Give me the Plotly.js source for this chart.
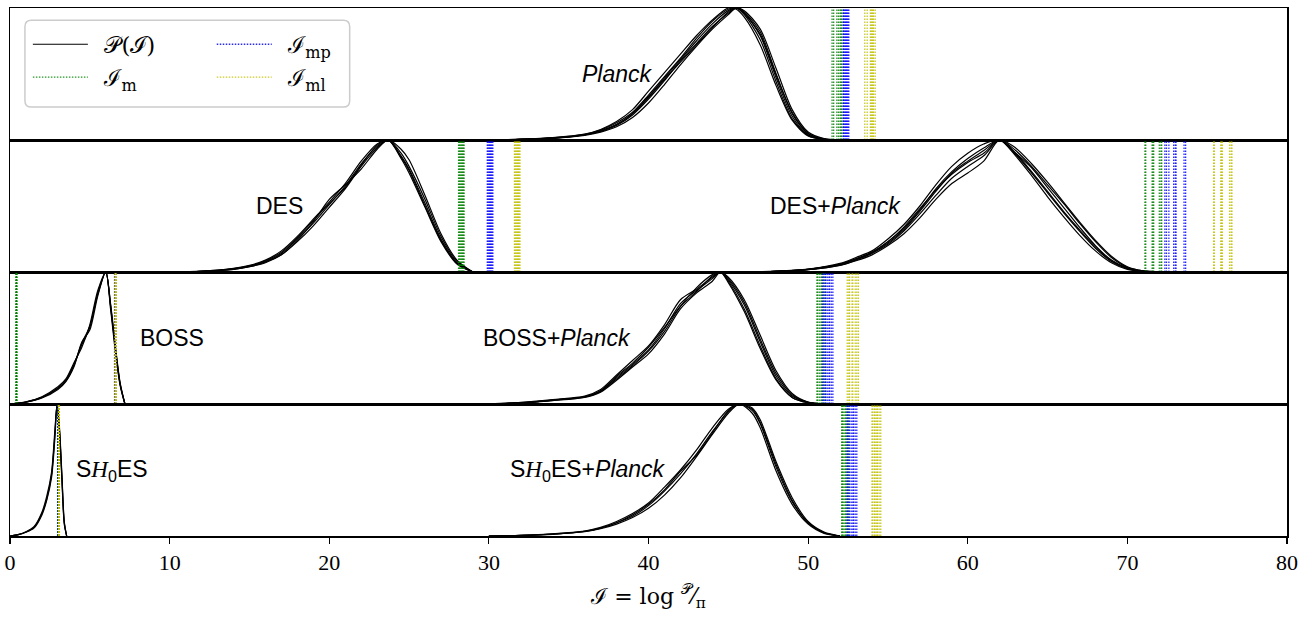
<!DOCTYPE html>
<html>
<head>
<meta charset="utf-8">
<script src="https://cdn.plot.ly/plotly-3.0.1.min.js"></script>
<style>html,body{margin:0;padding:0;background:#fff;}#chart{width:1315px;height:617px;}</style>
</head>
<body>
<div id="chart"></div>
<script>
// ---------------- data ----------------
// Panel 1 : Planck
const planckX = [30,32,34,36,37,38,39,40,41,42,43,44,45,45.5,46,47,48,49,50,51,52];
const planckY = [
  [0,0.005,0.015,0.04,0.07,0.12,0.2,0.33,0.47,0.61,0.75,0.88,0.98,1.0,0.96,0.79,0.47,0.18,0.04,0.005,0],
  [0,0.004,0.012,0.035,0.06,0.1,0.17,0.28,0.42,0.57,0.71,0.84,0.95,1.0,0.98,0.84,0.54,0.23,0.06,0.01,0],
  [0,0.006,0.018,0.045,0.08,0.14,0.23,0.37,0.51,0.65,0.79,0.91,1.0,0.99,0.93,0.72,0.41,0.15,0.03,0.004,0],
  [0,0.005,0.014,0.04,0.065,0.11,0.19,0.31,0.45,0.6,0.73,0.86,0.96,1.0,0.97,0.82,0.5,0.2,0.05,0.008,0],
  [0,0.005,0.016,0.042,0.075,0.13,0.21,0.34,0.48,0.62,0.77,0.9,0.99,1.0,0.95,0.76,0.44,0.16,0.035,0.004,0],
  [0,0.004,0.013,0.038,0.068,0.115,0.2,0.32,0.46,0.59,0.72,0.85,0.97,1.0,0.96,0.8,0.49,0.21,0.05,0.007,0]
];
const planckM  = [51.5,51.6,51.8,51.9,52.0,52.05,52.1,52.2];
const planckMP = [52.2,52.25,52.3,52.35,52.4,52.45,52.5,52.55];
const planckML = [53.55,53.7,53.9,53.95,54.0,54.05,54.1,54.2];

// Panel 2 : DES and DES+Planck
const desX = [10,12,14,15,16,17,18,19,20,21,22,23,23.7,24.5,25,26,27,28,29];
const desY = [
  [0,0.005,0.025,0.045,0.08,0.14,0.25,0.37,0.51,0.65,0.82,0.95,1.0,0.88,0.78,0.52,0.25,0.07,0],
  [0,0.005,0.02,0.04,0.07,0.13,0.24,0.38,0.55,0.66,0.78,0.93,1.0,0.9,0.8,0.55,0.27,0.08,0],
  [0,0.006,0.028,0.05,0.09,0.16,0.27,0.4,0.53,0.67,0.84,0.97,1.0,0.86,0.75,0.49,0.23,0.06,0],
  [0,0.004,0.02,0.04,0.075,0.13,0.23,0.35,0.49,0.63,0.8,0.94,1.0,0.93,0.85,0.58,0.29,0.09,0],
  [0,0.005,0.024,0.046,0.085,0.15,0.26,0.39,0.52,0.64,0.81,0.96,1.0,0.87,0.77,0.5,0.24,0.065,0]
];
const desM  = [28.1,28.15,28.2,28.25,28.3,28.35,28.4,28.45];
const desMP = [29.9,29.95,30.0,30.05,30.1,30.15,30.2,30.25];
const desML = [31.6,31.65,31.7,31.75,31.8,31.85,31.9,31.95];

const desPlanckX = [46,48,50,52,53,54,55,56,57,58,59,60,61,62,63,64,65,66,67,68,69,70,71,72];
const desPlanckY = [
  [0,0.005,0.02,0.06,0.1,0.15,0.23,0.33,0.47,0.63,0.76,0.86,0.94,1.0,0.89,0.75,0.6,0.45,0.31,0.18,0.08,0.025,0.005,0],
  [0,0.004,0.018,0.05,0.085,0.13,0.2,0.29,0.41,0.55,0.67,0.75,0.84,1.0,0.9,0.79,0.64,0.49,0.34,0.2,0.09,0.03,0.006,0],
  [0,0.006,0.022,0.065,0.11,0.16,0.25,0.36,0.5,0.66,0.8,0.9,0.97,1.0,0.88,0.73,0.57,0.42,0.28,0.16,0.07,0.02,0.004,0],
  [0,0.005,0.02,0.06,0.1,0.15,0.23,0.34,0.48,0.62,0.74,0.83,0.9,1.0,0.92,0.8,0.66,0.52,0.37,0.23,0.11,0.035,0.008,0],
  [0,0.005,0.02,0.058,0.095,0.145,0.22,0.32,0.46,0.61,0.75,0.84,0.92,1.0,0.9,0.76,0.61,0.46,0.32,0.19,0.085,0.028,0.005,0],
  [0,0.004,0.017,0.052,0.09,0.14,0.21,0.31,0.44,0.58,0.71,0.8,0.88,1.0,0.94,0.82,0.68,0.53,0.38,0.24,0.12,0.04,0.008,0]
];
const desPlanckM  = [71.1,71.15,71.55,71.6,71.65,72.0,72.1,72.15];
const desPlanckMP = [72.35,72.45,72.6,72.9,73.0,73.05,73.55,73.65];
const desPlanckML = [75.4,75.45,75.85,75.9,75.95,76.4,76.5,76.55];

// Panel 3 : BOSS and BOSS+Planck
const bossX = [0,1,2,3,3.5,4,4.5,5,5.5,6,6.3,6.6,6.9,7.2];
const bossY = [
  [0,0.015,0.05,0.12,0.18,0.3,0.45,0.58,0.84,1.0,0.74,0.42,0.15,0],
  [0,0.013,0.045,0.11,0.17,0.28,0.47,0.56,0.82,1.0,0.76,0.44,0.16,0],
  [0,0.017,0.055,0.13,0.19,0.31,0.43,0.6,0.86,1.0,0.72,0.4,0.14,0],
  [0,0.014,0.05,0.12,0.175,0.29,0.46,0.59,0.83,1.0,0.75,0.43,0.15,0]
];
const bossM  = [0.38,0.4,0.42,0.4,0.39,0.41,0.4,0.43];
const bossMP = [6.55,6.58,6.6,6.62,6.6,6.57,6.63,6.6];
const bossML = [6.6,6.62,6.64,6.6,6.61,6.63,6.59,6.62];

const bossPlanckX = [30,32,34,36,37,38,39,40,41,42,43,44,44.5,45,46,47,48,49,50,51];
const bossPlanckY = [
  [0,0.01,0.03,0.055,0.1,0.2,0.3,0.41,0.57,0.76,0.86,0.95,1.0,0.94,0.75,0.47,0.21,0.06,0.012,0],
  [0,0.008,0.026,0.05,0.09,0.18,0.28,0.38,0.53,0.72,0.84,0.93,1.0,0.96,0.79,0.52,0.25,0.08,0.015,0],
  [0,0.012,0.034,0.06,0.11,0.22,0.33,0.44,0.6,0.79,0.87,0.96,1.0,0.93,0.72,0.44,0.19,0.05,0.01,0],
  [0,0.01,0.03,0.055,0.1,0.21,0.31,0.43,0.58,0.74,0.85,0.97,1.0,0.92,0.7,0.42,0.18,0.05,0.01,0],
  [0,0.009,0.028,0.052,0.095,0.19,0.29,0.4,0.55,0.74,0.88,0.98,1.0,0.95,0.77,0.49,0.23,0.07,0.012,0]
];
const bossPlanckM  = [50.55,50.6,50.7,50.8,50.85,50.95,51.0,51.1];
const bossPlanckMP = [50.9,51.0,51.1,51.2,51.3,51.35,51.45,51.55];
const bossPlanckML = [52.45,52.55,52.6,52.75,52.8,52.95,53.05,53.15];

// Panel 4 : SH0ES and SH0ES+Planck
const shoesX = [0,0.5,1,1.5,2,2.3,2.6,2.8,2.95,3.1,3.25,3.4,3.55];
const shoesY = [
  [0,0.01,0.03,0.065,0.17,0.28,0.46,0.75,1.0,0.8,0.45,0.1,0],
  [0,0.009,0.028,0.06,0.16,0.27,0.44,0.72,1.0,0.82,0.47,0.11,0],
  [0,0.011,0.032,0.07,0.18,0.3,0.48,0.78,1.0,0.79,0.43,0.09,0]
];
const shoesM  = [2.98,3.0,3.01,3.02,3.0,2.99,3.01,3.03];
const shoesMP = [3.02,3.03,3.04,3.05,3.03,3.04,3.06,3.05];
const shoesML = [3.04,3.05,3.06,3.07,3.05,3.06,3.08,3.07];

const shoesPlanckX = [30,32,34,36,37,38,39,40,41,42,43,44,45,45.7,46.5,47,48,49,50,51,52];
const shoesPlanckY = [
  [0,0.004,0.015,0.035,0.06,0.1,0.15,0.23,0.34,0.47,0.62,0.79,0.94,1.0,0.95,0.85,0.52,0.26,0.1,0.025,0],
  [0,0.003,0.013,0.032,0.055,0.09,0.14,0.21,0.31,0.44,0.6,0.77,0.93,1.0,0.97,0.88,0.56,0.29,0.11,0.03,0],
  [0,0.005,0.017,0.038,0.065,0.11,0.17,0.25,0.37,0.5,0.65,0.82,0.96,1.0,0.93,0.82,0.49,0.24,0.09,0.02,0],
  [0,0.004,0.014,0.036,0.06,0.1,0.16,0.24,0.35,0.49,0.61,0.78,0.95,1.0,0.96,0.86,0.54,0.27,0.1,0.025,0]
];
const shoesPlanckM  = [52.1,52.15,52.2,52.3,52.35,52.4,52.5,52.55];
const shoesPlanckMP = [52.45,52.5,52.6,52.7,52.8,52.85,52.95,53.05];
const shoesPlanckML = [54.0,54.05,54.15,54.2,54.3,54.35,54.45,54.55];

const xTickVals = [0,10,20,30,40,50,60,70,80];
const panelLabels = ["<i>Planck</i>","DES","DES+<i>Planck</i>","BOSS","BOSS+<i>Planck</i>",
  'S<span style="font-family:Liberation Serif;font-style:italic">H</span><sub>0</sub>ES',
  'S<span style="font-family:Liberation Serif;font-style:italic">H</span><sub>0</sub>ES+<i>Planck</i>'];
const legendNames = ["\u2002𝒫(ℐ)", "\u2002ℐ<sub>m</sub>", "\u2002ℐ<sub>mp</sub>", "\u2002ℐ<sub>ml</sub>"];
const xTitle = 'ℐ = log <sup>𝒫</sup>⁄<sub>π</sub>';

// ---------------- build traces ----------------
const GREEN = '#008000', BLUE = '#0000ff', YELLOW = '#bfbf00';
const traces = [];
let legendDone = {P:false, m:false, mp:false, ml:false};

function addCurves(xs, ys, ax) {
  ys.forEach(y => {
    const show = !legendDone.P; legendDone.P = true;
    traces.push({x: xs, y: y, type: 'scatter', mode: 'lines', xaxis: 'x' + ax, yaxis: 'y' + ax,
      line: {color: 'black', width: 1.2, shape: 'spline', smoothing: 0.8},
      name: legendNames[0], legendgroup: 'P', showlegend: show, legend: 'legend', hoverinfo: 'skip'});
  });
}
function addLines(vals, ax, color, key, nameIdx, leg) {
  vals.forEach(v => {
    const show = !legendDone[key]; legendDone[key] = true;
    traces.push({x: [v, v], y: [0, 1], type: 'scatter', mode: 'lines', xaxis: 'x' + ax, yaxis: 'y' + ax,
      line: {color: color, width: 1.3, dash: '1.5px,1.5px'}, opacity: 0.85,
      name: legendNames[nameIdx], legendgroup: key, showlegend: show, legend: leg, hoverinfo: 'skip'});
  });
}
function addSet(m, mp, ml, ax) {
  addLines(m, ax, GREEN, 'm', 1, 'legend');
  addLines(mp, ax, BLUE, 'mp', 2, 'legend2');
  addLines(ml, ax, YELLOW, 'ml', 3, 'legend2');
}

addCurves(planckX, planckY, '');
addCurves(desX, desY, '2');
addCurves(desPlanckX, desPlanckY, '2');
addCurves(bossX, bossY, '3');
addCurves(bossPlanckX, bossPlanckY, '3');
addCurves(shoesX, shoesY, '4');
addCurves(shoesPlanckX, shoesPlanckY, '4');

addSet(planckM, planckMP, planckML, '');
addSet(desM, desMP, desML, '2');
addSet(desPlanckM, desPlanckMP, desPlanckML, '2');
addSet(bossM, bossMP, bossML, '3');
addSet(bossPlanckM, bossPlanckMP, bossPlanckML, '3');
addSet(shoesM, shoesMP, shoesML, '4');
addSet(shoesPlanckM, shoesPlanckMP, shoesPlanckML, '4');

// ---------------- layout ----------------
const frame = {showline: true, mirror: true, linecolor: 'black', linewidth: 1.5,
  showgrid: false, zeroline: false};
function xa(anchor, bottom) {
  const a = Object.assign({}, frame, {anchor: anchor, range: [0, 80], fixedrange: true,
    ticks: bottom ? 'outside' : '', ticklen: 6, tickwidth: 1.2, tickcolor: 'black',
    showticklabels: !!bottom, tickvals: xTickVals,
    tickfont: {family: 'Liberation Serif, serif', size: 22, color: 'black'}});
  if (!bottom) a.matches = 'x4';
  else a.title = {text: xTitle, standoff: 14,
      font: {family: 'DejaVu Serif, Liberation Serif, serif', size: 22, color: 'black'}};
  return a;
}
function ya(d0, d1, anchor) {
  return Object.assign({}, frame, {domain: [d0, d1], anchor: anchor, range: [0, 1],
    showticklabels: false, ticks: '', fixedrange: true});
}

const labelSpec = [
  // [text index, x, x axis, y axis domain, xanchor]
  [0, 40.4, 'x', 'y domain', 'right'],
  [1, 18.5, 'x2', 'y2 domain', 'right'],
  [2, 55.95, 'x2', 'y2 domain', 'right'],
  [3, 8.0, 'x3', 'y3 domain', 'left'],
  [4, 39.0, 'x3', 'y3 domain', 'right'],
  [5, 4.0, 'x4', 'y4 domain', 'left'],
  [6, 41.2, 'x4', 'y4 domain', 'right']
];
const annotations = labelSpec.map(s => ({
  text: panelLabels[s[0]], x: s[1], xref: s[2], y: 0.5, yref: s[3], xanchor: s[4],
  yanchor: 'middle', showarrow: false,
  font: {family: 'Liberation Sans, Arial, sans-serif', size: 23, color: 'black'}
}));

// rounded legend frame
const lx0 = 0.0117, lx1 = 0.266, ly0 = 0.8125, ly1 = 0.977, rx = 0.005, ry = 0.012;
const legendPath = `M${lx0+rx},${ly0} L${lx1-rx},${ly0} Q${lx1},${ly0} ${lx1},${ly0+ry} L${lx1},${ly1-ry} Q${lx1},${ly1} ${lx1-rx},${ly1} L${lx0+rx},${ly1} Q${lx0},${ly1} ${lx0},${ly1-ry} L${lx0},${ly0+ry} Q${lx0},${ly0} ${lx0+rx},${ly0} Z`;

const legendFont = {family: 'DejaVu Serif, Liberation Serif, serif', size: 23, color: 'black'};
const layout = {
  width: 1315, height: 617,
  margin: {l: 10, r: 28, t: 8, b: 81},
  paper_bgcolor: 'white', plot_bgcolor: 'white',
  xaxis: xa('y', false), xaxis2: xa('y2', false), xaxis3: xa('y3', false), xaxis4: xa('y4', true),
  yaxis: ya(0.75, 1, 'x'), yaxis2: ya(0.5, 0.75, 'x2'), yaxis3: ya(0.25, 0.5, 'x3'), yaxis4: ya(0, 0.25, 'x4'),
  legend: {x: 0.014, y: 0.972, xanchor: 'left', yanchor: 'top', bgcolor: 'rgba(0,0,0,0)',
    font: legendFont, itemwidth: 55, tracegroupgap: 0},
  legend2: {x: 0.158, y: 0.972, xanchor: 'left', yanchor: 'top', bgcolor: 'rgba(0,0,0,0)',
    font: legendFont, itemwidth: 55, tracegroupgap: 0},
  shapes: [{type: 'path', xref: 'paper', yref: 'paper', path: legendPath,
    line: {color: '#cccccc', width: 1.5}, fillcolor: 'white', layer: 'above'}],
  annotations: annotations,
  showlegend: true
};

Plotly.newPlot('chart', traces, layout, {staticPlot: true, displayModeBar: false});
</script>
</body>
</html>
